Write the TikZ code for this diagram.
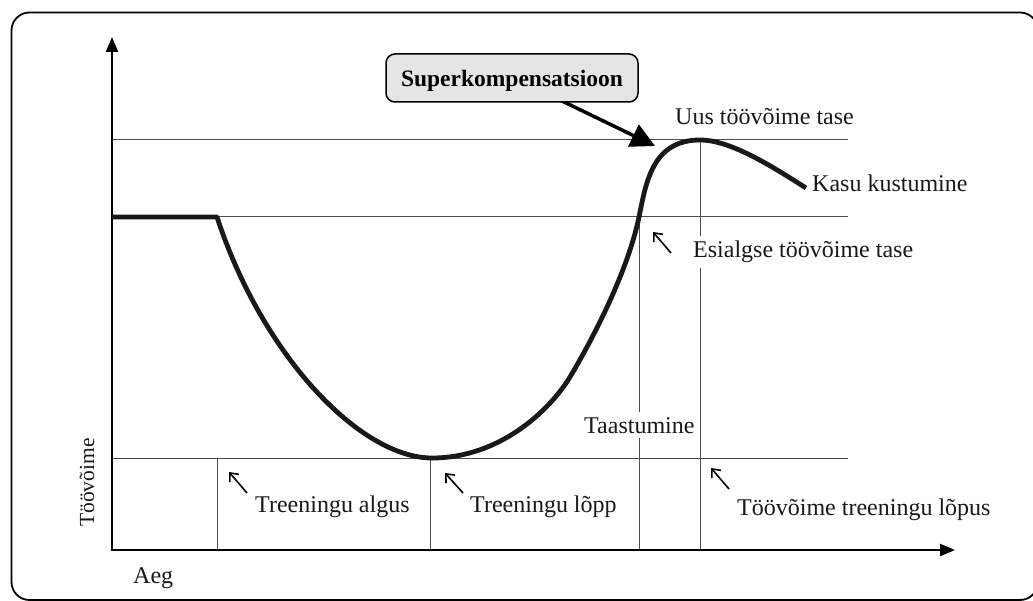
\documentclass[tikz,border=0pt]{standalone}
\usepackage{fontspec}
\setmainfont{Liberation Serif}
\usetikzlibrary{arrows.meta}
\begin{document}
\begin{tikzpicture}[x=1pt,y=-1pt,
  gridline/.style={line width=1pt, draw=black!70},
  lbl/.style={inner sep=0pt, anchor=base west, font=\fontsize{24}{28}\selectfont, text=black!90},
  pointer/.style={line width=1.6pt, -{Straight Barb[length=7pt,width=12pt]}},
  axisline/.style={line width=2pt, -{Triangle[length=15pt,width=12pt]}},
  perf/.style={line width=4.8pt, line join=round, draw=black!90},
]
\useasboundingbox (0,0) rectangle (1033,601);
% outer frame
\draw[line width=1.8pt, rounded corners=18pt] (11.5,12.5) rectangle (1038,600);

% grid lines
\draw[gridline] (112,140) -- (848,140);
\draw[gridline] (112,217) -- (848,217);
\draw[gridline] (112,458) -- (848,458);
\draw[gridline] (217,458) -- (217,550);
\draw[gridline] (430,458) -- (430,550);
\draw[gridline] (639,217) -- (639,550);
\draw[gridline] (700,140) -- (700,550);

% axes
\coordinate (o) at (112,551);
\coordinate (ytop) at (112,37);
\coordinate (o2) at (111,550);
\coordinate (xend) at (955,550);
\draw[axisline] (o) -- (ytop);
\draw[axisline, line width=2.4pt] (o2) -- (xend);

% labels
\node[lbl] (uus) at (675,125) {Uus töövõime tase};
\node[lbl] (kasu) at (812,192) {Kasu kustumine};
\node[lbl, fill=white, inner ysep=5pt, inner xsep=2pt] (esi) at (691,258) {Esialgse töövõime tase};
\node[lbl, fill=white, inner ysep=5pt, inner xsep=1pt] (taas) at (583,433) {Taastumine};
\node[lbl] (talg) at (255,512) {Treeningu algus};
\node[lbl] (tlop) at (470,512) {Treeningu lõpp};
\node[lbl] (tvl) at (737,515) {Töövõime treeningu lõpus};
\node[lbl] (aeg) at (133,583) {Aeg};
\node[lbl, rotate=90, font=\fontsize{21.5}{26}\selectfont] (tv) at (94,527) {Töövõime};

% performance curve
\draw[perf] (112,217) -- (217,217)
  .. controls (262,355) and (360,458) .. (432,458)
  .. controls (500,458) and (550,410) .. (570,377)
  .. controls (595,335) and (628,270) .. (639,217)
  .. controls (646,183) and (652,140) .. (700,140)
  .. controls (730,140) and (770,165) .. (806,188);

% small pointers
\coordinate (p1t) at (247,493); \coordinate (p1h) at (229,472);
\coordinate (p2t) at (463,493); \coordinate (p2h) at (445,473);
\coordinate (p3t) at (729,489); \coordinate (p3h) at (711,468);
\coordinate (p4t) at (671,253); \coordinate (p4h) at (653,232);
\draw[pointer] (p1t) -- (p1h);
\draw[pointer] (p2t) -- (p2h);
\draw[pointer] (p3t) -- (p3h);
\draw[pointer] (p4t) -- (p4h);

% superkompensatsioon callout
\coordinate (skt) at (560,100);
\coordinate (skh) at (655,146);
\draw[line width=3.5pt, -{Triangle[length=24pt,width=24pt]}] (skt) -- (skh);
\node[draw, line width=1.5pt, rounded corners=9pt, fill=black!10, minimum width=252pt, minimum height=48pt, text depth=0pt, inner sep=0pt, font=\bfseries\fontsize{23.5}{28}\selectfont] (sk) at (512,78) {Superkompensatsioon};
\end{tikzpicture}
\end{document}
